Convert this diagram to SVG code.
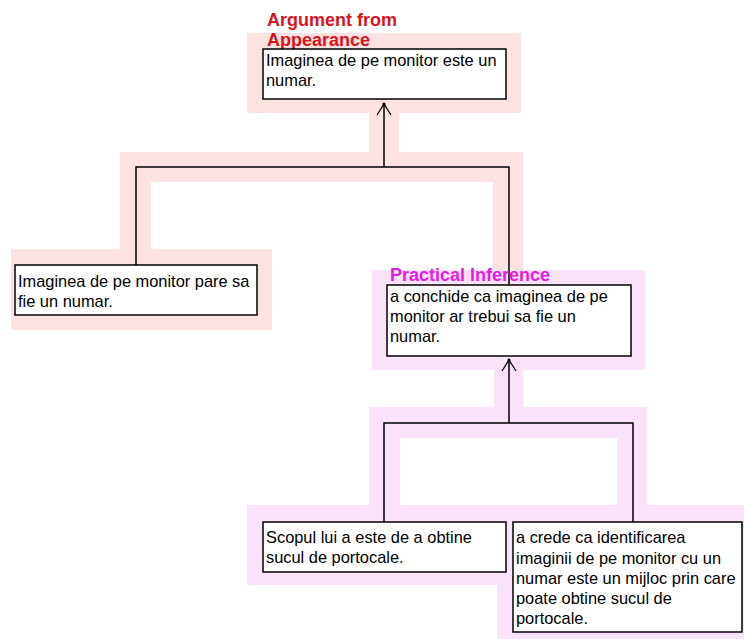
<svg xmlns="http://www.w3.org/2000/svg" width="744" height="639" viewBox="0 0 744 639">
<defs>
<style>
.bg{fill:#ffffff}
.pr{fill:#fde2e2}
.pl{fill:#fbe2fb}
.box{fill:#ffffff;stroke:#000;stroke-width:1.5}
.t{font-family:"Liberation Sans",Arial,sans-serif;font-size:16.4px;fill:#000}
.tr{font-family:"Liberation Sans",Arial,sans-serif;font-size:18px;font-weight:bold;fill:#d8141c}
.tm{font-family:"Liberation Sans",Arial,sans-serif;font-size:18px;font-weight:bold;fill:#e01ee0}
.ln{fill:none;stroke:#000;stroke-width:1.5}
.ah{fill:none;stroke:#000;stroke-width:1.3}
.dot{fill:#000}
</style>
</defs>
<rect class="bg" x="0" y="0" width="744" height="639"/>
<g id="highlights">
<rect class="pr" x="247" y="33" width="274" height="80"/>
<rect class="pr" x="369" y="112" width="30" height="41"/>
<path class="pr" d="M120 152 H523 V271 H493 V182 H151 V250 H120 Z"/>
<rect class="pr" x="11" y="249" width="261" height="81"/>
<rect class="pl" x="372" y="270" width="273" height="100"/>
<rect class="pl" x="494" y="369" width="29" height="39"/>
<path class="pl" d="M369 407 H647 V506 H617 V438 H400 V506 H369 Z"/>
<rect class="pl" x="247" y="505" width="497" height="80"/>
<rect class="pl" x="497" y="505" width="247" height="134"/>
</g>
<g id="connectors">
<path class="ln" d="M384 167 V104"/>
<path class="ah" d="M377 115 L384 104 L391 115"/>
<circle class="dot" cx="384" cy="104" r="1.6"/>
<path class="ln" d="M136 265 V167 H509 V286"/>
<path class="ln" d="M509 423 V360"/>
<path class="ah" d="M502 371 L509 360 L516 371"/>
<circle class="dot" cx="509" cy="360" r="1.6"/>
<path class="ln" d="M384 522 V423 H633 V522"/>
</g>
<g id="n-appearance">
<text class="tr" x="267" y="26">Argument from</text>
<text class="tr" x="267" y="46">Appearance</text>
<rect class="box" x="263" y="49" width="243" height="50"/>
<text class="t" x="266" y="66">Imaginea de pe monitor este un</text>
<text class="t" x="266" y="86">numar.</text>
</g>
<g id="n-pare">
<rect class="box" x="15" y="265" width="242" height="50"/>
<text class="t" x="18" y="287">Imaginea de pe monitor pare sa</text>
<text class="t" x="18" y="307">fie un numar.</text>
</g>
<g id="n-practical">
<text class="tm" x="390" y="281">Practical Inference</text>
<rect class="box" x="387" y="285" width="244" height="71"/>
<text class="t" x="390" y="302">a conchide ca imaginea de pe</text>
<text class="t" x="390" y="322">monitor ar trebui sa fie un</text>
<text class="t" x="390" y="342">numar.</text>
</g>
<g id="n-scopul">
<rect class="box" x="263" y="522" width="243" height="50"/>
<text class="t" x="266" y="543">Scopul lui a este de a obtine</text>
<text class="t" x="266" y="563">sucul de portocale.</text>
</g>
<g id="n-crede">
<rect class="box" x="513" y="522" width="229" height="110"/>
<text class="t" x="516" y="543">a crede ca identificarea</text>
<text class="t" x="516" y="564">imaginii de pe monitor cu un</text>
<text class="t" x="516" y="584">numar este un mijloc prin care</text>
<text class="t" x="516" y="604">poate obtine sucul de</text>
<text class="t" x="516" y="624">portocale.</text>
</g>
</svg>
